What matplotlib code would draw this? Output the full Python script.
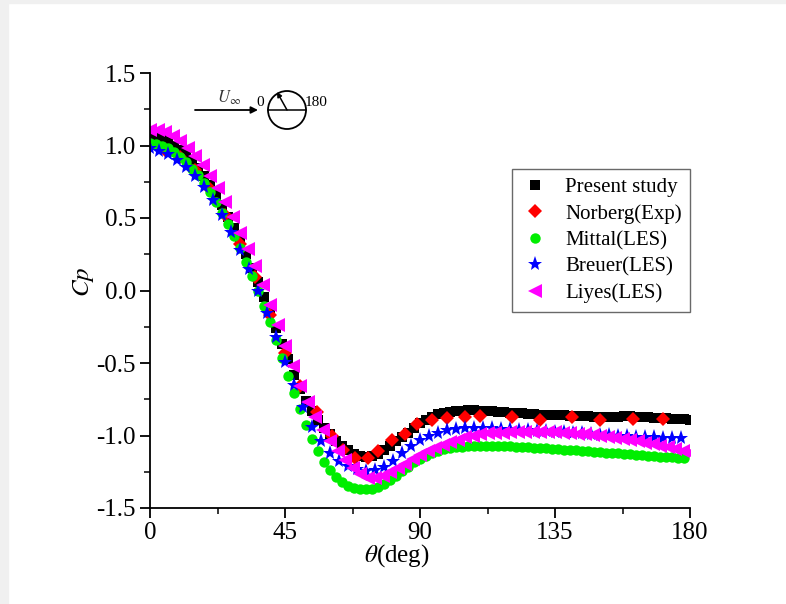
import numpy as np
import matplotlib
matplotlib.use("Agg")
import matplotlib.pyplot as plt
from matplotlib.patches import Circle, Rectangle
from matplotlib.ticker import MultipleLocator, FormatStrFormatter

plt.rcParams['font.family'] = ['Liberation Serif', 'DejaVu Serif']
plt.rcParams['mathtext.fontset'] = 'stix'

# Present study (2 deg spacing)
theta_present = np.arange(0, 181, 2)
cp_present = [
    1.070, 1.065, 1.050, 1.030, 1.000, 0.970, 0.935, 0.890, 0.845, 0.790,
    0.730, 0.660, 0.590, 0.510, 0.430, 0.340, 0.250, 0.155, 0.060, -0.045,
    -0.150, -0.260, -0.370, -0.475, -0.580, -0.680, -0.760, -0.830, -0.890, -0.945,
    -0.990, -1.040, -1.075, -1.100, -1.125, -1.140, -1.145, -1.140, -1.125, -1.100,
    -1.070, -1.040, -1.010, -0.980, -0.945, -0.915, -0.890, -0.870, -0.855, -0.845,
    -0.838, -0.832, -0.828, -0.826, -0.826, -0.828, -0.830, -0.833, -0.836, -0.839,
    -0.842, -0.845, -0.848, -0.851, -0.854, -0.856, -0.858, -0.860, -0.861, -0.862,
    -0.863, -0.864, -0.866, -0.868, -0.870, -0.871, -0.871, -0.870, -0.869, -0.868,
    -0.868, -0.869, -0.871, -0.873, -0.876, -0.879, -0.882, -0.885, -0.887, -0.889,
    -0.890]

# Norberg (Exp)
theta_norberg = [0, 5, 10, 15, 20, 25, 30, 35, 40, 45, 50, 55.6, 60.5, 64.4, 68.3,
                 72.8, 76, 80.5, 85, 89, 94, 99, 105, 110, 120.6, 130, 140.6, 150, 161, 171]
cp_norberg = [1.00, 0.97, 0.92, 0.83, 0.70, 0.52, 0.32, 0.09, -0.17, -0.43, -0.66,
              -0.84, -1.00, -1.10, -1.155, -1.155, -1.11, -1.03, -0.99, -0.92, -0.89,
              -0.88, -0.87, -0.866, -0.87, -0.89, -0.87, -0.89, -0.886, -0.886]

# Mittal (LES), 2 deg spacing
theta_mittal = np.arange(0, 179, 2)
cp_mittal = [
    1.020, 1.010, 0.995, 0.980, 0.955, 0.920, 0.885, 0.840, 0.795, 0.740,
    0.680, 0.610, 0.535, 0.460, 0.375, 0.290, 0.195, 0.100, -0.002, -0.110,
    -0.220, -0.340, -0.465, -0.590, -0.705, -0.820, -0.925, -1.025, -1.105, -1.180,
    -1.240, -1.285, -1.320, -1.345, -1.362, -1.370, -1.372, -1.368, -1.355, -1.335,
    -1.310, -1.280, -1.245, -1.215, -1.185, -1.160, -1.140, -1.120, -1.105, -1.094,
    -1.085, -1.080, -1.076, -1.073, -1.071, -1.070, -1.070, -1.071, -1.072, -1.074,
    -1.075, -1.077, -1.079, -1.081, -1.083, -1.085, -1.088, -1.091, -1.094, -1.097,
    -1.100, -1.103, -1.106, -1.109, -1.112, -1.115, -1.118, -1.121, -1.124, -1.127,
    -1.130, -1.133, -1.136, -1.139, -1.142, -1.145, -1.148, -1.150, -1.152, -1.155]

# Breuer (LES), 3 deg spacing
theta_breuer = np.arange(0, 178, 3)
cp_breuer = [
    0.980, 0.965, 0.940, 0.900, 0.850, 0.790, 0.715, 0.625, 0.520, 0.405,
    0.280, 0.145, 0.000, -0.155, -0.320, -0.490, -0.655, -0.805, -0.940, -1.040,
    -1.120, -1.175, -1.210, -1.232, -1.243, -1.240, -1.218, -1.175, -1.120, -1.070,
    -1.030, -1.000, -0.980, -0.965, -0.956, -0.950, -0.948, -0.948, -0.950, -0.952,
    -0.955, -0.959, -0.963, -0.967, -0.970, -0.973, -0.977, -0.981, -0.985, -0.990,
    -0.995, -0.998, -1.001, -1.004, -1.007, -1.010, -1.013, -1.016, -1.018, -1.020]

# Liyes (LES), 2.5 deg spacing
theta_liyes = np.arange(0, 180.1, 2.5)
cp_liyes = [
    1.110, 1.105, 1.090, 1.065, 1.030, 0.985, 0.930, 0.865, 0.790, 0.705,
    0.610, 0.510, 0.400, 0.285, 0.170, 0.040, -0.100, -0.240, -0.380, -0.520,
    -0.660, -0.770, -0.870, -0.960, -1.040, -1.110, -1.170, -1.225, -1.265, -1.290,
    -1.295, -1.280, -1.255, -1.225, -1.195, -1.165, -1.135, -1.110, -1.085, -1.065,
    -1.045, -1.028, -1.012, -1.000, -0.992, -0.986, -0.982, -0.980, -0.978, -0.977,
    -0.976, -0.975, -0.975, -0.976, -0.978, -0.980, -0.983, -0.987, -0.991, -0.995,
    -1.000, -1.007, -1.014, -1.021, -1.030, -1.039, -1.049, -1.059, -1.070, -1.082,
    -1.094, -1.107, -1.120]

fig = plt.figure(figsize=(7.86, 6.04), dpi=100)
# light grey frame of the screenshot
fig.patches.append(Rectangle((0, 0), 8 / 786, 1, transform=fig.transFigure,
                             color='#f0f0f0', zorder=0))
fig.patches.append(Rectangle((0, 1 - 3 / 604), 1, 3 / 604, transform=fig.transFigure,
                             color='#f0f0f0', zorder=0))

ax = fig.add_axes([150 / 786, 96 / 604, 540 / 786, 435 / 604])

ax.plot(theta_present, cp_present, 's', color='black', ms=7, mew=0,
        label='Present study')
ax.plot(theta_norberg, cp_norberg, 'D', color='red', ms=7.5, mew=0,
        label='Norberg(Exp)')
ax.plot(theta_mittal, cp_mittal, 'o', color='#00ee00', ms=7.5, mew=0,
        label='Mittal(LES)')
ax.plot(theta_breuer, cp_breuer, '*', color='#0000ff', ms=11, mew=0,
        label='Breuer(LES)')
ax.plot(theta_liyes, cp_liyes, '<', color='#ff00ff', ms=9.5, mew=0,
        label='Liyes(LES)')

ax.set_xlim(0, 180)
ax.set_ylim(-1.5, 1.5)
ax.xaxis.set_major_locator(MultipleLocator(45))
ax.xaxis.set_minor_locator(MultipleLocator(22.5))
ax.yaxis.set_major_locator(MultipleLocator(0.5))
ax.yaxis.set_minor_locator(MultipleLocator(0.25))
ax.yaxis.set_major_formatter(FormatStrFormatter('%.1f'))
for s in ['top', 'right']:
    ax.spines[s].set_visible(False)
for s in ['left', 'bottom']:
    ax.spines[s].set_linewidth(1.3)
ax.tick_params(which='major', direction='out', length=7, width=1.3, labelsize=18, pad=3)
ax.tick_params(which='minor', direction='out', length=4, width=1.1)

ax.set_xlabel(r'$\theta$(deg)', fontsize=18)
ax.xaxis.set_label_coords(0.457, -0.078)
ax.set_ylabel(r'$Cp$', fontsize=18)
ax.yaxis.set_label_coords(-0.1, 0.52)

leg = ax.legend(loc='upper left', bbox_to_anchor=(0.67, 0.779), fontsize=15,
                frameon=True, fancybox=False, edgecolor='#444444',
                handletextpad=0.75, borderpad=0.4, labelspacing=0.33,
                handlelength=1.4, borderaxespad=0)
leg.get_frame().set_linewidth(1.0)

# inset sketch: free stream and cylinder angle convention (pixel coords)
ov = fig.add_axes([0, 0, 1, 1], zorder=10)
ov.set_xlim(0, 786)
ov.set_ylim(604, 0)
ov.axis('off')
ov.annotate('', xy=(258, 110), xytext=(195, 110),
            arrowprops=dict(arrowstyle='-|>', color='black', lw=1.3,
                            mutation_scale=10, shrinkA=0, shrinkB=0))
ov.text(229, 107, r'$U_{\infty}$', fontsize=12, ha='center', va='bottom', color='#333333')
ov.text(264, 103, '0', fontsize=11, ha='right', va='center')
ov.text(305, 103, '180', fontsize=11, ha='left', va='center')
ov.add_patch(Circle((287, 110), 19, fill=False, ec='black', lw=1.3))
ov.plot([268, 306], [110, 110], color='black', lw=1.1)
ov.annotate('', xy=(277, 92), xytext=(287, 110),
            arrowprops=dict(arrowstyle='-|>', color='black', lw=1.1,
                            mutation_scale=7, shrinkA=0, shrinkB=0))

fig.savefig('out.png', dpi=100)
